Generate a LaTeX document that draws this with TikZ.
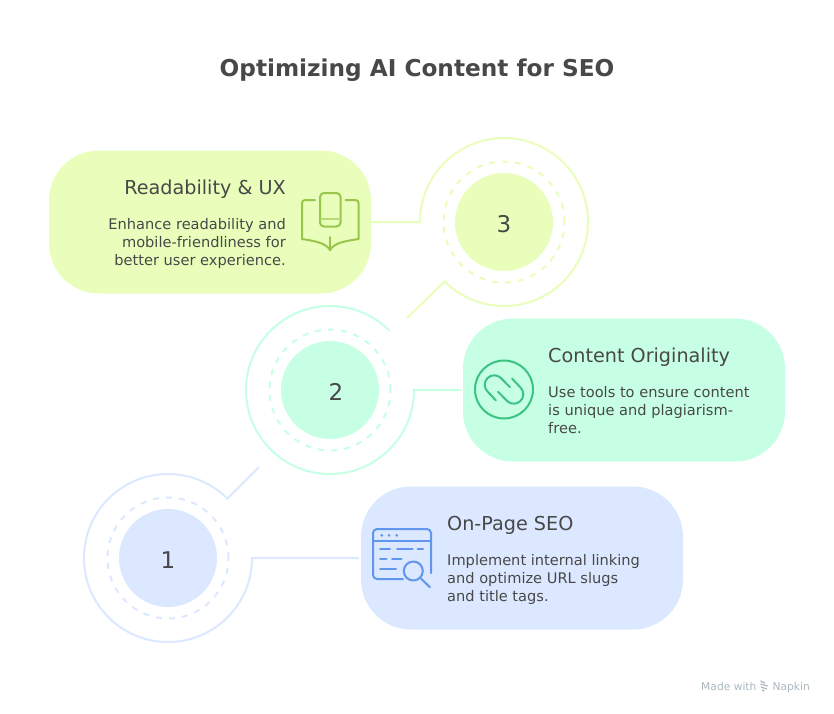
\documentclass[tikz,border=0pt]{standalone}
\usepackage{fontspec}
\setmainfont{DejaVu Sans}
\usetikzlibrary{calc}
\usetikzlibrary{positioning}
\definecolor{limefill}{HTML}{E8FEBA}
\definecolor{mintfill}{HTML}{C6FFE4}
\definecolor{bluefill}{HTML}{DBE8FF}
\definecolor{limeicon}{HTML}{97C64A}
\definecolor{minticon}{HTML}{3CC382}
\definecolor{blueicon}{HTML}{6096EE}
\definecolor{inktext}{HTML}{484848}
\definecolor{marktext}{HTML}{AAB8C0}
\tikzset{
  cardbox/.style={rounded corners=50pt, minimum width=322pt, minimum height=143pt, inner sep=0pt},
  disc/.style={circle, minimum size=98pt, inner sep=0pt},
  numtext/.style={text=inktext, inner sep=0pt, font=\fontsize{23}{24}\selectfont},
  midring/.style={dash pattern=on 6pt off 7pt, line width=2pt},
  outerring/.style={line width=2pt, line join=miter},
  headtext/.style={text=inktext, inner sep=0pt, font=\fontsize{19.2}{20}\selectfont},
  bodytext/.style={text=inktext, inner sep=0pt, font=\fontsize{14.6}{18}\selectfont},
  marklabel/.style={text=marktext, inner sep=0pt, font=\fontsize{10.7}{12}\selectfont},
  iconline/.style={line width=2pt, line cap=round, line join=round}
}
\begin{document}
\begin{tikzpicture}[x=1pt,y=1pt]
  \useasboundingbox (0,0) rectangle (834,-713);

  % Title
  \node[text=inktext, font=\fontsize{23.2}{28}\selectfont\bfseries] (title) at (417,-70) {Optimizing AI Content for SEO};

  % Cards
  \node[cardbox, fill=limefill] (card3) at (210,-222) {};
  \node[cardbox, fill=mintfill] (card2) at (624,-390) {};
  \node[cardbox, fill=bluefill] (card1) at (522,-558) {};

  % Discs
  \node[disc, fill=limefill] (disc3) at (504,-222) {};
  \node[disc, fill=mintfill] (disc2) at (330,-390) {};
  \node[disc, fill=bluefill] (disc1) at (168,-558) {};

  % Numbers
  \node[numtext] (num3) at (504,-224) {3};
  \node[numtext] (num2) at (336,-392) {2};
  \node[numtext] (num1) at (168,-560) {1};

  % Dashed rings
  \draw[midring, limefill] (disc3) circle (60.5);
  \draw[midring, mintfill] (disc2) circle (60.5);
  \draw[midring, bluefill] (disc1) circle (60.5);

  % Outer rings with their connectors
  \coordinate (tail3) at (407,-318);
  \coordinate (tail1) at (259,-467);
  \draw[outerring, limefill, shorten <=-1pt] (card3.east) -- ($(disc3)+(-84,0)$) arc (180:-135:84) -- (tail3);
  \draw[outerring, mintfill, shorten <=2pt] (card2.west) -- ($(disc2)+(84,0)$) arc (0:-315:84);
  \draw[outerring, bluefill, shorten <=2pt] (card1.west) -- ($(disc1)+(84,0)$) arc (0:-315:84) -- (tail1);

  % Card texts
  \node[headtext, anchor=east] (head3) at (286,-189) {Readability \& UX};
  \node[bodytext, anchor=north east, align=right] (body3) at (286,-218) {Enhance readability and\\mobile-friendliness for\\better user experience.};
  \node[headtext, anchor=west] (head2) at (548,-357) {Content Originality};
  \node[bodytext, anchor=north west, align=left] (body2) at (548,-386) {Use tools to ensure content\\is unique and plagiarism-\\free.};
  \node[headtext, anchor=west] (head1) at (447,-525) {On-Page SEO};
  \node[bodytext, anchor=north west, align=left] (body1) at (447,-554) {Implement internal linking\\and optimize URL slugs\\and title tags.};

  % Book icon
  \begin{scope}[limeicon]
    \draw[iconline, rounded corners=4pt] (320,-193) rectangle (340.5,-226.5);
    \draw[iconline, limeicon!60!limefill] (321,-219) -- (340,-219);
    \draw[iconline, rounded corners=3pt] (315,-200) -- (302,-200) -- (302,-239);
    \draw[iconline, rounded corners=3pt] (345.5,-200) -- (358.5,-200) -- (358.5,-239);
    \draw[iconline] (302,-239) .. controls (315,-241) and (326,-243) .. (330,-250) .. controls (334,-243) and (345,-241) .. (358.5,-239);
    \draw[iconline] (330,-237) -- (330,-250);
  \end{scope}

  % Loop icon
  \begin{scope}[minticon, shift={(504,-389.5)}]
    \draw[iconline] (0,0) circle (29);
    \draw[iconline] (-8,-11) -- (-16.5,-2) arc (225:45:9.5) -- (6,2.3);
    \draw[iconline] (8,11) -- (16.5,2) arc (45:-135:9.5) -- (-6,-2.3);
  \end{scope}

  % Browser icon
  \begin{scope}[blueicon]
    \draw[iconline, rounded corners=4pt] (403,-579) -- (373,-579) -- (373,-529) -- (431,-529) -- (431,-573);
    \draw[iconline] (373,-541) -- (431,-541);
    \fill (381.7,-535.3) circle (1.5) (389,-535.3) circle (1.5) (396.7,-535.3) circle (1.5);
    \draw[iconline] (380,-549) -- (390,-549) (397,-549) -- (412.5,-549) (417.5,-549) -- (423,-549);
    \draw[iconline] (380,-559) -- (386.5,-559) (392,-559) -- (401.5,-559);
    \draw[iconline] (380,-569) -- (396,-569);
    \draw[iconline] (413.3,-571) circle (9.5);
    \draw[iconline] (421,-578.5) -- (430,-587.3);
  \end{scope}

  % Watermark
  \node[marklabel, anchor=base west] (madewith) at (701,-690) {Made with};
  \node[marklabel, anchor=base east] (napkin) at (810,-690) {Napkin};
  \draw[marktext, line width=1.2pt] (760.5,-681) -- (765,-683) (760.5,-684) -- (768,-686) (761,-687) -- (767,-689) (762,-690) -- (764.5,-691);
\end{tikzpicture}
\end{document}
